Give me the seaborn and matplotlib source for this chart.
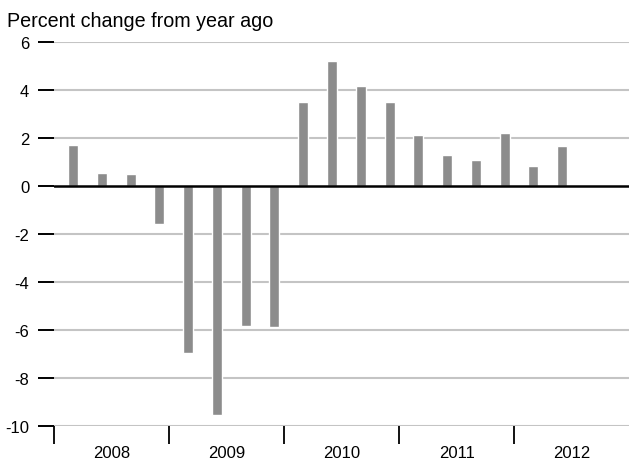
import numpy as np
import pandas as pd
import matplotlib
matplotlib.use("Agg")
import matplotlib.pyplot as plt
import seaborn as sns

quarters = ["2008Q1", "2008Q2", "2008Q3", "2008Q4",
            "2009Q1", "2009Q2", "2009Q3", "2009Q4",
            "2010Q1", "2010Q2", "2010Q3", "2010Q4",
            "2011Q1", "2011Q2", "2011Q3", "2011Q4",
            "2012Q1", "2012Q2"]
values = [1.71, 0.55, 0.50, -1.58,
          -6.95, -9.55, -5.84, -5.88,
          3.50, 5.21, 4.16, 3.50,
          2.12, 1.29, 1.08, 2.20,
          0.83, 1.67]
years = ["2008", "2009", "2010", "2011", "2012"]
yticks = [6, 4, 2, 0, -2, -4, -6, -8, -10]

sns.set_theme(style="white")
plt.rcParams['font.family'] = ['Liberation Sans', 'DejaVu Sans']
plt.rcParams['axes.unicode_minus'] = False

df = pd.DataFrame({"quarter": quarters, "value": values})

fig = plt.figure(figsize=(6.29, 4.64), dpi=100)
ax = fig.add_axes([53.5 / 629, 1 - 427 / 464, 1 - 53.5 / 629, (427 - 43) / 464])

sns.barplot(data=df, x="quarter", y="value", color="#8c8c8c", saturation=1,
            width=0.35, ax=ax, zorder=3)

ax.set_xlim(-0.678, 19.32)
ax.set_ylim(-10, 6)

# gridlines
for v in yticks:
    if v != 0:
        ax.axhline(v, color="#c4c4c4", lw=1.5, zorder=1)
ax.axhline(0, color="black", lw=1.8, zorder=4)

for s in ax.spines.values():
    s.set_visible(False)

ax.set_yticks(yticks)
ax.set_yticklabels([str(v) for v in yticks], fontsize=12, color="black")
ax.tick_params(axis="y", which="major", direction="out", length=11.5, width=1.4,
               color="black", pad=6, left=True)

boundaries = np.arange(len(years)) * 4 - 0.67
ax.set_xticks(boundaries)
ax.set_xticklabels([])
ax.tick_params(axis="x", which="major", direction="out", length=13, width=1.3,
               color="black", bottom=True)
ax.set_xticks(boundaries + 2, minor=True)
ax.set_xticklabels(years, minor=True, fontsize=12, color="black")
ax.tick_params(axis="x", which="minor", length=0, pad=14)

ax.set_xlabel("")
ax.set_ylabel("")

fig.text(7 / 629, 1 - 27 / 464, "Percent change from year ago", fontsize=14.2,
         color="black", ha="left", va="baseline")

fig.savefig("out.png", dpi=100)
